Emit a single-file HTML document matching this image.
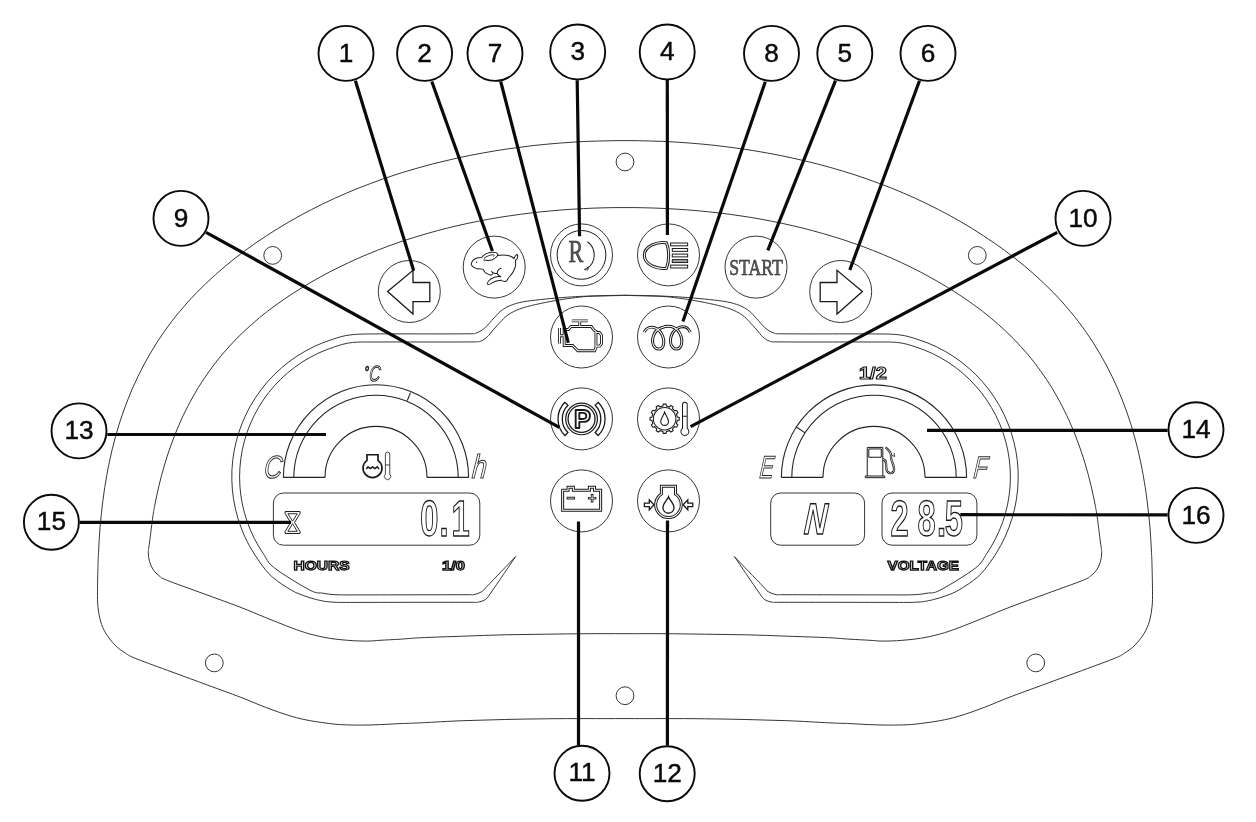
<!DOCTYPE html>
<html lang="en"><head><meta charset="utf-8"><title>Instrument cluster</title>
<style>
html,body{margin:0;padding:0;background:#fff;}
body{width:1256px;height:822px;overflow:hidden;font-family:"Liberation Sans",sans-serif;}
svg{display:block;will-change:transform;transform:translateZ(0);}
.num{font-family:"Liberation Sans",sans-serif;font-size:26.2px;text-anchor:middle;fill:#0a0a0a;stroke:#0a0a0a;stroke-width:.45px;}
.lbl{font-family:"Liberation Sans",sans-serif;font-weight:bold;font-size:13.6px;fill:#fff;stroke:#111;stroke-width:1.25px;}
.lcd{font-family:"Liberation Sans",sans-serif;font-weight:bold;fill:#fff;stroke:#1a1a1a;stroke-width:1.15px;vector-effect:non-scaling-stroke;}
.ital{font-family:"Liberation Sans",sans-serif;font-style:italic;fill:#fff;stroke:#2a2a2a;stroke-width:1px;}
.serif{font-family:"Liberation Serif",serif;fill:#5a5a5a;stroke:#222;stroke-width:.55px;}
</style></head>
<body>
<svg width="1256" height="822" viewBox="0 0 1256 822">
<rect width="1256" height="822" fill="#fff"/>
<path d="M625,140.6 C620.9,140.6 616.9,140.6 612.7,140.7 C608.4,140.7 604,140.8 599.7,141 C595.4,141.1 591.1,141.3 586.8,141.4 C582.4,141.6 578.1,141.9 573.8,142.1 C569.5,142.4 565.1,142.7 560.8,143 C556.5,143.4 552.2,143.7 547.9,144.1 C543.5,144.5 539.2,145 534.9,145.4 C530.6,145.9 526.3,146.4 522,147 C517.6,147.5 513.3,148.1 509,148.7 C504.7,149.3 500.4,150 496.1,150.7 C491.9,151.4 487.6,152.1 483.3,152.9 C479,153.6 474.8,154.5 470.5,155.3 C466.2,156.1 462,157 457.7,158 C453.5,158.9 449.3,159.9 445.1,160.9 C440.8,161.9 436.6,162.9 432.4,164 C428.2,165.1 424,166.2 419.9,167.4 C415.7,168.6 411.6,169.8 407.4,171 C403.3,172.3 399.1,173.6 395,174.9 C390.9,176.3 386.8,177.6 382.7,179.1 C378.7,180.5 374.6,182 370.6,183.5 C366.5,185 362.5,186.5 358.5,188.1 C354.5,189.7 350.5,191.4 346.5,193.1 C342.6,194.8 338.6,196.5 334.7,198.3 C330.8,200.1 326.9,201.9 323,203.8 C319.1,205.7 315.3,207.6 311.5,209.6 C307.6,211.5 303.8,213.6 300.1,215.6 C296.3,217.7 292.5,219.8 288.8,222 C285.1,224.1 281.4,226.4 277.7,228.6 C274,230.9 270.4,233.2 266.8,235.6 C263.2,237.9 259.6,240.3 256,242.8 C252.5,245.3 248.9,247.8 245.5,250.3 C242,252.9 238.5,255.5 235.1,258.2 C231.7,260.9 228.4,263.6 225.1,266.3 C221.8,269.1 218.5,271.9 215.3,274.8 C212.1,277.7 208.9,280.6 205.8,283.6 C202.7,286.5 199.6,289.6 196.6,292.6 C193.7,295.7 190.7,298.9 187.8,302 C185,305.2 182.2,308.5 179.4,311.8 C176.7,315 174,318.4 171.4,321.8 C168.8,325.2 166.3,328.6 163.9,332.1 C161.4,335.6 159,339.2 156.7,342.8 C154.4,346.4 152.2,350 150.1,353.7 C147.9,357.4 145.8,361.1 143.8,364.9 C141.8,368.7 139.9,372.5 138,376.4 C136.1,380.2 134.3,384.1 132.6,388.1 C130.9,392 129.3,396 127.7,400 C126.1,403.9 124.6,408 123.2,412 C121.8,416.1 120.4,420.2 119.1,424.3 C117.8,428.4 116.6,432.6 115.5,436.7 C114.3,440.9 113.2,445.1 112.2,449.3 C111.2,453.5 110.3,457.7 109.4,461.9 C108.5,466.2 107.6,470.5 106.9,474.7 C106.1,479 105.4,483.3 104.7,487.6 C104,491.9 103.4,496.2 102.9,500.5 C102.3,504.8 101.8,509.2 101.4,513.5 C100.9,517.8 100.5,522.2 100.1,526.5 C99.8,530.9 99.4,535.2 99.2,539.5 C98.9,543.9 98.7,548.2 98.5,552.6 C98.3,556.9 98.1,559.1 98,565.6 C97.8,572 97.5,584.3 97.5,591.1 C97.5,597.9 97.4,601.4 97.9,606.4 C98.4,611.4 99.2,616.5 100.5,621 C101.8,625.5 103.5,629.6 106,633.6 C108.5,637.6 112,642 115.2,645.3 C118.5,648.6 121.9,650.9 125.5,653.2 C129.1,655.5 129.2,655.9 137,659 C144.8,662.1 160.3,667.7 172,672 C183.7,676.3 196.1,680.8 207.4,685 C218.7,689.2 230.3,693.3 240,697 C249.7,700.7 257,704.1 265.5,707.3 C274,710.5 283.7,714 291.1,716.2 C298.6,718.4 303.8,719.5 310.2,720.7 C316.6,721.9 324.1,722.8 329.4,723.5 C334.7,724.2 336.9,724.4 342.2,724.7 C347.5,725 354.9,725.1 361.3,725.1 C367.7,725.1 374.1,724.9 380.5,724.6 C386.9,724.4 393.2,723.9 400,723.6 C406.8,723.3 410.9,723.3 421.4,722.8 C431.9,722.3 449,721.2 462.8,720.7 C476.6,720.2 490.4,719.8 504.2,719.5 C518,719.2 531.8,718.9 545.6,718.8 C559.4,718.6 573.8,718.6 587,718.6 C600.2,718.6 612.3,718.6 625,718.6 C637.7,718.6 649.8,718.6 663,718.6 C676.2,718.6 690.6,718.6 704.4,718.8 C718.2,718.9 732,719.2 745.8,719.5 C759.6,719.8 773.4,720.2 787.2,720.7 C801,721.2 818.1,722.3 828.6,722.8 C839.1,723.3 843.2,723.3 850,723.6 C856.8,723.9 863,724.4 869.5,724.6 C876,724.9 882.3,725.1 888.7,725.1 C895.1,725.1 902.5,725 907.8,724.7 C913.1,724.4 915.3,724.2 920.6,723.5 C925.9,722.8 933.4,721.9 939.8,720.7 C946.2,719.5 951.4,718.4 958.9,716.2 C966.4,714 976,710.5 984.5,707.3 C993,704.1 1000.3,700.7 1010,697 C1019.7,693.3 1031.3,689.2 1042.6,685 C1053.9,680.8 1066.3,676.3 1078,672 C1089.7,667.7 1105.2,662.1 1113,659 C1120.8,655.9 1120.9,655.5 1124.5,653.2 C1128.1,650.9 1131.5,648.6 1134.8,645.3 C1138,642 1141.5,637.6 1144,633.6 C1146.5,629.6 1148.2,625.5 1149.5,621 C1150.8,616.5 1151.6,611.4 1152.1,606.4 C1152.6,601.4 1152.5,597.9 1152.5,591.1 C1152.5,584.3 1152.2,572 1152,565.6 C1151.9,559.1 1151.7,556.9 1151.5,552.6 C1151.3,548.2 1151.1,543.9 1150.8,539.5 C1150.6,535.2 1150.2,530.9 1149.9,526.5 C1149.5,522.2 1149.1,517.8 1148.6,513.5 C1148.2,509.2 1147.7,504.8 1147.1,500.5 C1146.6,496.2 1146,491.9 1145.3,487.6 C1144.6,483.3 1143.9,479 1143.1,474.7 C1142.4,470.5 1141.5,466.2 1140.6,461.9 C1139.7,457.7 1138.8,453.5 1137.8,449.3 C1136.8,445.1 1135.7,440.9 1134.5,436.7 C1133.4,432.6 1132.2,428.4 1130.9,424.3 C1129.6,420.2 1128.2,416.1 1126.8,412 C1125.4,408 1123.9,403.9 1122.3,400 C1120.7,396 1119.1,392 1117.4,388.1 C1115.7,384.1 1113.9,380.2 1112,376.4 C1110.1,372.5 1108.2,368.7 1106.2,364.9 C1104.2,361.1 1102.1,357.4 1099.9,353.7 C1097.8,350 1095.6,346.4 1093.3,342.8 C1091,339.2 1088.6,335.6 1086.1,332.1 C1083.7,328.6 1081.2,325.2 1078.6,321.8 C1076,318.4 1073.3,315 1070.6,311.8 C1067.8,308.5 1065,305.2 1062.2,302 C1059.3,298.9 1056.3,295.7 1053.4,292.6 C1050.4,289.6 1047.3,286.5 1044.2,283.6 C1041.1,280.6 1037.9,277.7 1034.7,274.8 C1031.5,271.9 1028.2,269.1 1024.9,266.3 C1021.6,263.6 1018.3,260.9 1014.9,258.2 C1011.5,255.5 1008,252.9 1004.5,250.3 C1001.1,247.8 997.5,245.3 994,242.8 C990.4,240.3 986.8,237.9 983.2,235.6 C979.6,233.2 976,230.9 972.3,228.6 C968.6,226.4 964.9,224.1 961.2,222 C957.5,219.8 953.7,217.7 949.9,215.6 C946.2,213.6 942.4,211.5 938.5,209.6 C934.7,207.6 930.9,205.7 927,203.8 C923.1,201.9 919.2,200.1 915.3,198.3 C911.4,196.5 907.4,194.8 903.5,193.1 C899.5,191.4 895.5,189.7 891.5,188.1 C887.5,186.5 883.5,185 879.4,183.5 C875.4,182 871.3,180.5 867.3,179.1 C863.2,177.6 859.1,176.3 855,174.9 C850.9,173.6 846.7,172.3 842.6,171 C838.4,169.8 834.3,168.6 830.1,167.4 C826,166.2 821.8,165.1 817.6,164 C813.4,162.9 809.2,161.9 804.9,160.9 C800.7,159.9 796.5,158.9 792.3,158 C788,157 783.8,156.1 779.5,155.3 C775.2,154.5 771,153.6 766.7,152.9 C762.4,152.1 758.1,151.4 753.9,150.7 C749.6,150 745.3,149.3 741,148.7 C736.7,148.1 732.4,147.5 728,147 C723.7,146.4 719.4,145.9 715.1,145.4 C710.8,145 706.5,144.5 702.1,144.1 C697.8,143.7 693.5,143.4 689.2,143 C684.9,142.7 680.5,142.4 676.2,142.1 C671.9,141.9 667.6,141.6 663.2,141.4 C658.9,141.3 654.6,141.1 650.3,141 C646,140.8 641.6,140.7 637.3,140.7 C633.1,140.6 629.1,140.6 625,140.6Z" fill="none" stroke="#2b2b2b" stroke-width="0.95"/>
<path d="M625,207.6 C621.7,207.6 618.5,207.6 615.1,207.6 C611.7,207.7 608.1,207.7 604.5,207.8 C601,207.9 597.5,208 594,208.1 C590.5,208.3 587,208.4 583.5,208.6 C580,208.8 576.4,209 572.9,209.2 C569.4,209.4 565.9,209.7 562.4,209.9 C558.9,210.2 555.3,210.5 551.8,210.8 C548.3,211.1 544.8,211.5 541.3,211.8 C537.8,212.2 534.3,212.6 530.8,213 C527.3,213.4 523.8,213.9 520.3,214.3 C516.8,214.8 513.3,215.3 509.8,215.8 C506.3,216.3 502.8,216.9 499.3,217.4 C495.8,218 492.4,218.6 488.9,219.2 C485.4,219.8 482,220.5 478.5,221.2 C475,221.9 471.6,222.6 468.1,223.3 C464.7,224 461.3,224.8 457.8,225.6 C454.4,226.4 451,227.2 447.6,228 C444.2,228.9 440.7,229.8 437.4,230.7 C434,231.6 430.6,232.5 427.2,233.5 C423.8,234.4 420.5,235.4 417.1,236.5 C413.8,237.5 410.4,238.5 407.1,239.6 C403.7,240.7 400.4,241.8 397.1,243 C393.8,244.1 390.5,245.3 387.2,246.5 C384,247.8 380.7,249 377.4,250.3 C374.2,251.6 370.9,252.9 367.7,254.2 C364.5,255.6 361.3,256.9 358.1,258.3 C354.9,259.7 351.7,261.2 348.5,262.7 C345.4,264.1 342.2,265.7 339.1,267.2 C336,268.7 332.8,270.3 329.7,271.9 C326.6,273.5 323.6,275.2 320.5,276.9 C317.4,278.6 314.4,280.3 311.4,282 C308.3,283.8 305.3,285.6 302.4,287.4 C299.4,289.2 296.4,291.1 293.5,293 C290.5,294.9 287.6,296.8 284.7,298.8 C281.8,300.8 279,302.8 276.1,304.9 C273.3,306.9 270.5,309 267.7,311.1 C265,313.3 262.2,315.5 259.5,317.7 C256.9,319.9 254.2,322.2 251.6,324.5 C249,326.8 246.4,329.1 243.9,331.5 C241.3,333.9 238.9,336.3 236.4,338.8 C234,341.3 231.6,343.8 229.3,346.4 C226.9,349 224.6,351.6 222.4,354.2 C220.2,356.9 218,359.6 215.8,362.3 C213.7,365.1 211.6,367.8 209.6,370.7 C207.6,373.5 205.6,376.3 203.7,379.2 C201.7,382.1 199.9,385.1 198,388 C196.2,391 194.5,394 192.8,397 C191,400.1 189.4,403.2 187.8,406.3 C186.2,409.4 184.6,412.5 183.1,415.7 C181.7,418.8 180.2,422 178.8,425.3 C177.4,428.5 176.1,431.7 174.8,435 C173.5,438.3 172.3,441.6 171.1,444.9 C169.9,448.2 168.7,451.5 167.6,454.9 C166.5,458.2 165.5,461.6 164.5,465 C163.5,468.4 162.5,471.8 161.6,475.2 C160.7,478.6 159.9,482 159,485.5 C158.2,488.9 157.4,492.4 156.7,495.8 C156,499.3 155.3,502.7 154.6,506.2 C154,509.7 153.7,510.7 152.8,516.6 C152,522.6 150.4,536 149.6,542 C148.8,548 148.3,549.5 148.3,552.8 C148.3,556.1 148.8,558.8 149.6,561.7 C150.4,564.6 151.8,567.6 153.4,570 C155,572.4 157,574.1 159.2,575.8 C161.4,577.5 159.5,577.2 166.8,580.2 C174.1,583.2 190.8,589 203,593.5 C215.2,598 229.6,603.1 240,607.1 C250.4,611.1 257,614.1 265.5,617.5 C274,620.9 283.7,624.9 291.1,627.7 C298.6,630.5 303.8,632.3 310.2,634.1 C316.6,635.9 323,637.2 329.4,638.3 C335.8,639.3 342.2,639.9 348.6,640.4 C355,640.9 362.5,641.1 367.7,641.1 C372.9,641.1 374.6,640.6 380,640.3 C385.4,640 393.1,639.6 400,639.2 C406.9,638.8 410.9,638.2 421.4,637.7 C431.9,637.2 449,636.7 462.8,636.2 C476.6,635.7 490.4,635.1 504.2,634.8 C518,634.5 531.8,634.4 545.6,634.2 C559.4,634 573.8,633.8 587,633.7 C600.2,633.6 612.3,633.7 625,633.7 C637.7,633.7 649.8,633.6 663,633.7 C676.2,633.8 690.6,634 704.4,634.2 C718.2,634.4 732,634.5 745.8,634.8 C759.6,635.1 773.4,635.7 787.2,636.2 C801,636.7 818.1,637.2 828.6,637.7 C839.1,638.2 843.1,638.8 850,639.2 C856.9,639.6 864.6,640 870,640.3 C875.4,640.6 877.1,641.1 882.3,641.1 C887.5,641.1 895,640.9 901.4,640.4 C907.8,639.9 914.2,639.3 920.6,638.3 C927,637.2 933.4,635.9 939.8,634.1 C946.2,632.3 951.4,630.5 958.9,627.7 C966.4,624.9 976,620.9 984.5,617.5 C993,614.1 999.6,611.1 1010,607.1 C1020.4,603.1 1034.8,598 1047,593.5 C1059.2,589 1075.9,583.2 1083.2,580.2 C1090.5,577.2 1088.6,577.5 1090.8,575.8 C1093,574.1 1095,572.4 1096.6,570 C1098.2,567.6 1099.6,564.6 1100.4,561.7 C1101.2,558.8 1101.7,556.1 1101.7,552.8 C1101.7,549.5 1101.2,548 1100.4,542 C1099.6,536 1098,522.6 1097.2,516.6 C1096.3,510.7 1096,509.7 1095.4,506.2 C1094.7,502.7 1094,499.3 1093.3,495.8 C1092.6,492.4 1091.8,488.9 1091,485.5 C1090.1,482 1089.3,478.6 1088.4,475.2 C1087.5,471.8 1086.5,468.4 1085.5,465 C1084.5,461.6 1083.5,458.2 1082.4,454.9 C1081.3,451.5 1080.1,448.2 1078.9,444.9 C1077.7,441.6 1076.5,438.3 1075.2,435 C1073.9,431.7 1072.6,428.5 1071.2,425.3 C1069.8,422 1068.3,418.8 1066.9,415.7 C1065.4,412.5 1063.8,409.4 1062.2,406.3 C1060.6,403.2 1059,400.1 1057.2,397 C1055.5,394 1053.8,391 1052,388 C1050.1,385.1 1048.3,382.1 1046.3,379.2 C1044.4,376.3 1042.4,373.5 1040.4,370.7 C1038.4,367.8 1036.3,365.1 1034.2,362.3 C1032,359.6 1029.8,356.9 1027.6,354.2 C1025.4,351.6 1023.1,349 1020.7,346.4 C1018.4,343.8 1016,341.3 1013.6,338.8 C1011.1,336.3 1008.7,333.9 1006.1,331.5 C1003.6,329.1 1001,326.8 998.4,324.5 C995.8,322.2 993.1,319.9 990.5,317.7 C987.8,315.5 985,313.3 982.3,311.1 C979.5,309 976.7,306.9 973.9,304.9 C971,302.8 968.2,300.8 965.3,298.8 C962.4,296.8 959.5,294.9 956.5,293 C953.6,291.1 950.6,289.2 947.6,287.4 C944.7,285.6 941.7,283.8 938.6,282 C935.6,280.3 932.6,278.6 929.5,276.9 C926.4,275.2 923.4,273.5 920.3,271.9 C917.2,270.3 914,268.7 910.9,267.2 C907.8,265.7 904.6,264.1 901.5,262.7 C898.3,261.2 895.1,259.7 891.9,258.3 C888.7,256.9 885.5,255.6 882.3,254.2 C879.1,252.9 875.8,251.6 872.6,250.3 C869.3,249 866,247.8 862.8,246.5 C859.5,245.3 856.2,244.1 852.9,243 C849.6,241.8 846.3,240.7 842.9,239.6 C839.6,238.5 836.2,237.5 832.9,236.5 C829.5,235.4 826.2,234.4 822.8,233.5 C819.4,232.5 816,231.6 812.6,230.7 C809.3,229.8 805.8,228.9 802.4,228 C799,227.2 795.6,226.4 792.2,225.6 C788.7,224.8 785.3,224 781.9,223.3 C778.4,222.6 775,221.9 771.5,221.2 C768,220.5 764.6,219.8 761.1,219.2 C757.6,218.6 754.2,218 750.7,217.4 C747.2,216.9 743.7,216.3 740.2,215.8 C736.7,215.3 733.2,214.8 729.7,214.3 C726.2,213.9 722.7,213.4 719.2,213 C715.7,212.6 712.2,212.2 708.7,211.8 C705.2,211.5 701.7,211.1 698.2,210.8 C694.7,210.5 691.1,210.2 687.6,209.9 C684.1,209.7 680.6,209.4 677.1,209.2 C673.6,209 670,208.8 666.5,208.6 C663,208.4 659.5,208.3 656,208.1 C652.5,208 649,207.9 645.5,207.8 C641.9,207.7 638.3,207.7 634.9,207.6 C631.5,207.6 628.3,207.6 625,207.6Z" fill="none" stroke="#2b2b2b" stroke-width="0.95"/>
<circle cx="625" cy="162" r="8.9" fill="none" stroke="#2b2b2b" stroke-width="0.95"/>
<circle cx="272.7" cy="255.4" r="8.9" fill="none" stroke="#2b2b2b" stroke-width="0.95"/>
<circle cx="977.3" cy="255.4" r="8.9" fill="none" stroke="#2b2b2b" stroke-width="0.95"/>
<circle cx="214.3" cy="662.9" r="8.9" fill="none" stroke="#2b2b2b" stroke-width="0.95"/>
<circle cx="1035.7" cy="662.9" r="8.9" fill="none" stroke="#2b2b2b" stroke-width="0.95"/>
<circle cx="625" cy="695.7" r="8.9" fill="none" stroke="#2b2b2b" stroke-width="0.95"/>
<path d="M625,295.2 C622.3,295.2 615.1,295.4 608.9,295.5 C602.7,295.6 593.8,295.9 587.6,296.1 C581.4,296.3 577,296.6 571.7,296.9 C566.4,297.2 561.7,297.6 555.7,298.1 C549.7,298.6 541.8,299.4 535.8,300.1 C529.8,300.8 524.5,301.4 519.9,302.5 C515.3,303.6 511.3,305 508,306.5 C504.7,308 502.4,309.8 500,311.7 C497.6,313.6 496.4,315.4 493.8,318.2 C491.2,321 487.3,325.8 484.4,328.3 C481.5,330.8 478.9,332.1 476.2,333 C473.5,333.9 475.7,333.7 468,333.8 C460.3,333.9 444.9,333.9 430,333.9 C415.1,333.9 392,333.8 378.8,333.9 C365.6,334 358.8,333.9 351,334.8 C343.2,335.7 338.2,337.5 332,339.5 C325.9,341.4 319.8,343.9 313.9,346.6 C308.1,349.4 302.4,352.7 296.9,356.2 C291.5,359.8 286.3,363.7 281.4,368 C276.5,372.2 271.9,376.8 267.6,381.7 C263.3,386.6 259.3,391.8 255.8,397.2 C252.2,402.6 248.9,408.3 246.1,414.2 C243.3,420 240.9,426.1 238.9,432.2 C236.9,438.4 235.3,444.8 234.1,451.1 C232.9,457.5 232.2,464 231.9,470.5 C231.7,477 231.8,483.5 232.4,490 C233,496.4 234,502.9 235.5,509.2 C237,515.6 238.9,521.8 241.2,527.9 C243.4,534 246.2,539.9 249.3,545.6 C252.4,551.3 255.9,556.8 259.7,562.1 C263.5,567.3 267,572.3 272.3,577 C277.5,581.6 285.8,586.9 291.1,590 C296.4,593.1 299.6,594.1 303.9,595.7 C308.1,597.3 311.9,598.5 316.6,599.6 C321.3,600.7 324.8,601.6 332,602.1 C339.2,602.6 345.3,602.4 360,602.4 C374.7,602.4 401.7,602.3 420,602.3 C438.3,602.3 460.4,602.3 470,602.3 C479.6,602.3 475.3,602.7 477.9,602.2 C480.5,601.7 483.5,600.9 485.6,599.4 C487.7,597.9 487.8,597.1 490.7,593 C493.6,588.9 499,580.9 503.2,574.8 C507.4,568.7 513.5,559.6 515.6,556.6" fill="none" stroke="#2b2b2b" stroke-width="0.95"/>
<path d="M625,295.2 C627.7,295.2 634.9,295.4 641.1,295.5 C647.3,295.6 656.2,295.9 662.4,296.1 C668.6,296.3 673,296.6 678.3,296.9 C683.6,297.2 688.3,297.6 694.3,298.1 C700.3,298.6 708.2,299.4 714.2,300.1 C720.2,300.8 725.5,301.4 730.1,302.5 C734.7,303.6 738.7,305 742,306.5 C745.3,308 747.6,309.8 750,311.7 C752.4,313.6 753.6,315.4 756.2,318.2 C758.8,321 762.7,325.8 765.6,328.3 C768.5,330.8 771.1,332.1 773.8,333 C776.5,333.9 774.3,333.7 782,333.8 C789.7,333.9 805.1,333.9 820,333.9 C834.9,333.9 858,333.8 871.2,333.9 C884.4,334 891.2,333.9 899,334.8 C906.8,335.7 911.8,337.5 918,339.5 C924.1,341.4 930.2,343.9 936.1,346.6 C941.9,349.4 947.6,352.7 953.1,356.2 C958.5,359.8 963.7,363.7 968.6,368 C973.5,372.2 978.1,376.8 982.4,381.7 C986.7,386.6 990.7,391.8 994.2,397.2 C997.8,402.6 1001.1,408.3 1003.9,414.2 C1006.7,420 1009.1,426.1 1011.1,432.2 C1013.1,438.4 1014.7,444.8 1015.9,451.1 C1017.1,457.5 1017.8,464 1018.1,470.5 C1018.3,477 1018.2,483.5 1017.6,490 C1017,496.4 1016,502.9 1014.5,509.2 C1013,515.6 1011.1,521.8 1008.8,527.9 C1006.6,534 1003.8,539.9 1000.7,545.6 C997.6,551.3 994.1,556.8 990.3,562.1 C986.5,567.3 983,572.3 977.7,577 C972.5,581.6 964.2,586.9 958.9,590 C953.6,593.1 950.4,594.1 946.1,595.7 C941.9,597.3 938.1,598.5 933.4,599.6 C928.7,600.7 925.2,601.6 918,602.1 C910.8,602.6 904.7,602.4 890,602.4 C875.3,602.4 848.3,602.3 830,602.3 C811.7,602.3 789.6,602.3 780,602.3 C770.4,602.3 774.7,602.7 772.1,602.2 C769.5,601.7 766.5,600.9 764.4,599.4 C762.3,597.9 762.2,597.1 759.3,593 C756.4,588.9 750.9,580.9 746.8,574.8 C742.6,568.7 736.5,559.6 734.4,556.6" fill="none" stroke="#2b2b2b" stroke-width="0.95"/>
<path d="M625,295.4 C622.3,295.5 615.1,295.6 608.9,295.8 C602.7,296 593.8,296 587.6,296.4 C581.4,296.8 577,297.4 571.7,298.1 C566.4,298.8 561.7,299.4 555.7,300.5 C549.7,301.6 541.8,303.1 535.8,304.5 C529.8,305.9 524.5,307.2 519.9,308.9 C515.3,310.6 511.3,312.6 508,314.9 C504.7,317.1 502.3,320 500,322.4 C497.7,324.8 496.2,326.6 494,329 C491.8,331.4 489.3,335.1 487,337.1 C484.7,339.1 482.8,340.4 480.3,341.2 C477.8,342 480.4,341.8 472,341.9 C463.6,342 445.5,342 430,342 C414.5,342 391.7,341.9 378.8,342 C365.9,342.1 359.7,341.7 352.3,342.5 C345,343.3 340.4,345 334.7,346.8 C329,348.6 323.3,350.9 317.8,353.4 C312.4,356 307,359 302,362.2 C296.9,365.5 292,369.2 287.4,373.1 C282.8,377 278.5,381.3 274.4,385.8 C270.4,390.2 266.6,395 263.3,400 C259.9,405 256.8,410.3 254.1,415.7 C251.4,421.1 249,426.7 247,432.4 C245.1,438.1 243.5,444 242.3,449.9 C241.1,455.8 240.3,461.9 239.9,467.9 C239.5,473.9 239.5,480 239.9,486 C240.3,492 241.1,498.1 242.3,504 C243.5,509.9 245.2,515.8 247.1,521.5 C249.1,527.2 251.5,532.8 254.2,538.2 C256.9,543.6 260,548.8 263.4,553.8 C266.8,558.8 266.9,562 274.6,568.1 C282.3,574.1 301.5,585.8 309.6,590 C317.7,594.2 318.6,592.4 323,593.2 C327.4,594 329.6,594.4 335.8,594.7 C342,595 346,594.9 360,594.9 C374,594.9 402.3,594.8 420,594.8 C437.7,594.8 457,594.7 466,594.7 C475,594.7 471.4,595.1 474,594.6 C476.6,594.1 479.6,593 481.7,591.7 C483.8,590.4 483.6,590 486.8,586.6 C490.1,583.2 496.4,576.6 501.2,571.6 C506,566.6 513.2,559.1 515.6,556.6" fill="none" stroke="#2b2b2b" stroke-width="0.95"/>
<path d="M625,295.4 C627.7,295.5 634.9,295.6 641.1,295.8 C647.3,296 656.2,296 662.4,296.4 C668.6,296.8 673,297.4 678.3,298.1 C683.6,298.8 688.3,299.4 694.3,300.5 C700.3,301.6 708.2,303.1 714.2,304.5 C720.2,305.9 725.5,307.2 730.1,308.9 C734.7,310.6 738.7,312.6 742,314.9 C745.3,317.1 747.7,320 750,322.4 C752.3,324.8 753.8,326.6 756,329 C758.2,331.4 760.7,335.1 763,337.1 C765.3,339.1 767.2,340.4 769.7,341.2 C772.2,342 769.6,341.8 778,341.9 C786.4,342 804.5,342 820,342 C835.5,342 858.3,341.9 871.2,342 C884.1,342.1 890.3,341.7 897.7,342.5 C905,343.3 909.6,345 915.3,346.8 C921,348.6 926.7,350.9 932.2,353.4 C937.6,356 943,359 948,362.2 C953.1,365.5 958,369.2 962.6,373.1 C967.2,377 971.5,381.3 975.6,385.8 C979.6,390.2 983.4,395 986.7,400 C990.1,405 993.2,410.3 995.9,415.7 C998.6,421.1 1001,426.7 1003,432.4 C1004.9,438.1 1006.5,444 1007.7,449.9 C1008.9,455.8 1009.7,461.9 1010.1,467.9 C1010.5,473.9 1010.5,480 1010.1,486 C1009.7,492 1008.9,498.1 1007.7,504 C1006.5,509.9 1004.8,515.8 1002.9,521.5 C1000.9,527.2 998.5,532.8 995.8,538.2 C993.1,543.6 990,548.8 986.6,553.8 C983.2,558.8 983.1,562 975.4,568.1 C967.7,574.1 948.5,585.8 940.4,590 C932.3,594.2 931.4,592.4 927,593.2 C922.6,594 920.4,594.4 914.2,594.7 C908,595 904,594.9 890,594.9 C876,594.9 847.7,594.8 830,594.8 C812.3,594.8 793,594.7 784,594.7 C775,594.7 778.6,595.1 776,594.6 C773.4,594.1 770.4,593 768.3,591.7 C766.2,590.4 766.5,590 763.2,586.6 C760,583.2 753.6,576.6 748.8,571.6 C744,566.6 736.8,559.1 734.4,556.6" fill="none" stroke="#2b2b2b" stroke-width="0.95"/>
<path d="M283.4,477.4 A92.6,92.6 0 0 1 468.6,477.4 M293.8,477.4 A82.2,82.2 0 0 1 458.2,477.4 M325,477.4 A51,51 0 0 1 427,477.4 M283.4,477.4 H325 M427,477.4 H468.6 M407.3,400.5 L410.5,392.6" fill="none" stroke="#222" stroke-width="1.1"/>
<path d="M781.4,477.4 A92.6,92.6 0 0 1 966.6,477.4 M791.8,477.4 A82.2,82.2 0 0 1 956.2,477.4 M823,477.4 A51,51 0 0 1 925,477.4 M781.4,477.4 H823 M925,477.4 H966.6 M796.4,427 L804.7,432.6" fill="none" stroke="#222" stroke-width="1.1"/>
<rect x="273.4" y="493" width="206.4" height="52.2" rx="10" fill="none" stroke="#2b2b2b" stroke-width="0.95"/>
<rect x="770.7" y="493" width="93.9" height="52.2" rx="10" fill="none" stroke="#2b2b2b" stroke-width="0.95"/>
<rect x="882" y="493" width="94.9" height="52.2" rx="10" fill="none" stroke="#2b2b2b" stroke-width="0.95"/>
<circle cx="409.3" cy="291.5" r="31" fill="none" stroke="#2b2b2b" stroke-width="0.95"/>
<circle cx="494.2" cy="267.1" r="31" fill="none" stroke="#2b2b2b" stroke-width="0.95"/>
<circle cx="581.5" cy="254.9" r="31" fill="none" stroke="#2b2b2b" stroke-width="0.95"/>
<circle cx="668.5" cy="254.9" r="31" fill="none" stroke="#2b2b2b" stroke-width="0.95"/>
<circle cx="756" cy="267.1" r="31" fill="none" stroke="#2b2b2b" stroke-width="0.95"/>
<circle cx="840.7" cy="291.5" r="31" fill="none" stroke="#2b2b2b" stroke-width="0.95"/>
<circle cx="581.5" cy="337" r="31" fill="none" stroke="#2b2b2b" stroke-width="0.95"/>
<circle cx="668.5" cy="337" r="31" fill="none" stroke="#2b2b2b" stroke-width="0.95"/>
<circle cx="581.5" cy="418.9" r="31" fill="none" stroke="#2b2b2b" stroke-width="0.95"/>
<circle cx="668.5" cy="418.9" r="31" fill="none" stroke="#2b2b2b" stroke-width="0.95"/>
<circle cx="581.5" cy="500.9" r="31" fill="none" stroke="#2b2b2b" stroke-width="0.95"/>
<circle cx="668.5" cy="500.9" r="31" fill="none" stroke="#2b2b2b" stroke-width="0.95"/>
<polygon points="387.6,291.4 413,270.3 413,282.5 429.8,282.5 429.8,301.6 413,301.6 413,314" fill="none" stroke="#1a1a1a" stroke-width="1.3" stroke-linejoin="miter"/>
<polygon points="862.4,291.4 837,270.3 837,282.5 820.2,282.5 820.2,301.6 837,301.6 837,314" fill="none" stroke="#1a1a1a" stroke-width="1.3" stroke-linejoin="miter"/>
<g transform="translate(455,232) scale(0.08518)"><path d="M190,380 C195,350 215,320 250,308 C275,300 295,300 312,300 C330,275 370,250 410,242 C450,235 490,240 502,258 C505,280 470,310 440,325 C410,335 370,335 335,328" fill="none" stroke="#1a1a1a" stroke-width="11.74" /><path d="M338,312 C370,285 410,268 450,266 C462,268 462,278 452,288" fill="none" stroke="#1a1a1a" stroke-width="10.57" /><path d="M497,275 C540,268 600,268 645,282 C670,292 685,303 692,312 C700,290 715,270 728,262 C742,285 735,315 708,335 C720,380 705,440 665,495 C640,525 615,545 607,575 C590,582 560,578 540,565 C500,566 465,578 430,600 C410,614 390,622 380,610 C375,595 390,575 415,555 C450,530 500,515 540,525" fill="none" stroke="#1a1a1a" stroke-width="11.74" /><path d="M192,388 C200,405 215,415 250,430 C290,432 325,428 335,445 C345,470 370,495 415,505 C432,506 442,496 440,485" fill="none" stroke="#1a1a1a" stroke-width="11.74" /><path d="M425,462 C440,480 465,492 495,487 C495,460 510,435 545,422 M495,487 C505,505 520,518 540,525" fill="none" stroke="#1a1a1a" stroke-width="11.74" /><circle cx="253" cy="355" r="8" fill="#1a1a1a"/><circle cx="192" cy="382" r="6" fill="#1a1a1a"/></g>
<text x="568.4" y="261.7" class="serif" font-size="30.8" textLength="14.8" lengthAdjust="spacingAndGlyphs">R</text>
<g transform="translate(541,220) scale(0.08518)"><path d="M545,255 A192,192 0 0 1 540,570" fill="none" stroke="#1a1a1a" stroke-width="11.74" /><path d="M508,582 L560,552 L548,588 Z" fill="none" stroke="#1a1a1a" stroke-width="9.39" /></g>
<circle cx="581.5" cy="254.9" r="24.4" fill="none" stroke="#1a1a1a" stroke-width="1"/>
<g transform="translate(628,220) scale(0.08518)"><path d="M452,268 C350,250 192,300 192,415 C192,530 350,582 452,566 C486,480 486,350 452,268 Z" fill="none" stroke="#1a1a1a" stroke-width="35.22" stroke-linejoin="round" /><path d="M452,268 C350,250 192,300 192,415 C192,530 350,582 452,566 C486,480 486,350 452,268 Z" fill="none" stroke="#fff" stroke-width="11.74" stroke-linejoin="round" /><rect x="500" y="270" width="200" height="33" fill="#fff" stroke="#1a1a1a" stroke-width="11.74"/><rect x="520" y="335" width="180" height="33" fill="#fff" stroke="#1a1a1a" stroke-width="11.74"/><rect x="520" y="400" width="180" height="33" fill="#fff" stroke="#1a1a1a" stroke-width="11.74"/><rect x="520" y="465" width="180" height="33" fill="#aaa" stroke="#1a1a1a" stroke-width="11.74"/><rect x="500" y="530" width="200" height="33" fill="#fff" stroke="#1a1a1a" stroke-width="11.74"/></g>
<text x="729.2" y="275.4" class="serif" font-size="23.7" textLength="53.7" lengthAdjust="spacingAndGlyphs">START</text>
<g transform="translate(541,302) scale(0.08518)"><path d="M272,322 H322 L352,288 H590 L622,330 L645,345 V535 L630,572 H432 L372,510 H272 Z M362,222 H550 M455,222 V288 M218,305 V487 M218,396 H272 M645,358 H686 L710,390 V490 L688,518 H645" fill="none" stroke="#1a1a1a" stroke-width="34.05" stroke-linejoin="miter" /><path d="M272,322 H322 L352,288 H590 L622,330 L645,345 V535 L630,572 H432 L372,510 H272 Z M362,222 H550 M455,222 V288 M218,305 V487 M218,396 H272 M645,358 H686 L710,390 V490 L688,518 H645" fill="none" stroke="#fff" stroke-width="12.91" stroke-linejoin="miter" /></g>
<g transform="translate(628,302) scale(0.08518)"><path d="M190,355 C215,300 270,285 320,305 C400,340 440,450 410,520 C390,565 330,565 300,510 C270,440 300,330 400,300 C450,280 500,280 540,300 C620,340 650,450 620,520 C595,565 540,565 510,510 C480,440 510,330 610,295 C660,280 710,300 730,355" fill="none" stroke="#1a1a1a" stroke-width="35.22" stroke-linejoin="miter" stroke-linecap="butt"/><path d="M190,355 C215,300 270,285 320,305 C400,340 440,450 410,520 C390,565 330,565 300,510 C270,440 300,330 400,300 C450,280 500,280 540,300 C620,340 650,450 620,520 C595,565 540,565 510,510 C480,440 510,330 610,295 C660,280 710,300 730,355" fill="none" stroke="#fff" stroke-width="11.74" stroke-linejoin="miter" stroke-linecap="butt"/></g>
<g transform="translate(541,384) scale(0.08518)"><circle cx="476" cy="410" r="186" fill="none" stroke="#1a1a1a" stroke-width="14.09"/><circle cx="476" cy="410" r="158" fill="none" stroke="#1a1a1a" stroke-width="15.26"/><path d="M280.84,214.84 A276,276 0 0 0 280.84,605.16 L316.19,569.81 A226,226 0 0 1 316.19,250.19 Z" fill="none" stroke="#1a1a1a" stroke-width="15.26" /><path d="M671.16,605.16 A276,276 0 0 0 671.16,214.84 L635.81,250.19 A226,226 0 0 1 635.81,569.81 Z" fill="none" stroke="#1a1a1a" stroke-width="15.26" /></g>
<text x="582.4" y="428" font-family="Liberation Sans, sans-serif" font-weight="bold" font-size="25.2" text-anchor="middle" fill="#fff" stroke="#1a1a1a" stroke-width="1.9" stroke-linejoin="round">P</text>
<g transform="translate(628,384) scale(0.08518)"><circle cx="430" cy="408" r="132" fill="none" stroke="#1a1a1a" stroke-width="11.74"/><path d="M451.14,259.5 L445.29,236.68 L414.71,236.68 L408.86,259.5 L374.05,268.82 L357.58,251.99 L331.1,267.28 L337.44,289.96 L311.96,315.44 L289.28,309.1 L273.99,335.58 L290.82,352.05 L281.5,386.86 L258.68,392.71 L258.68,423.29 L281.5,429.14 L290.82,463.95 L273.99,480.42 L289.28,506.9 L311.96,500.56 L337.44,526.04 L331.1,548.72 L357.58,564.01 L374.05,547.18 L408.86,556.5 L414.71,579.32 L445.29,579.32 L451.14,556.5 L485.95,547.18 L502.42,564.01 L528.9,548.72 L522.56,526.04 L548.04,500.56 L570.72,506.9 L586.01,480.42 L569.18,463.95 L578.5,429.14 L601.32,423.29 L601.32,392.71 L578.5,386.86 L569.18,352.05 L586.01,335.58 L570.72,309.1 L548.04,315.44 L522.56,289.96 L528.9,267.28 L502.42,251.99 L485.95,268.82 Z" fill="none" stroke="#1a1a1a" stroke-width="12.91" /><path d="M430,332 C443,370 476,402 476,440 A46,46 0 0 1 384,440 C384,402 417,370 430,332 Z" fill="none" stroke="#1a1a1a" stroke-width="12.91" /><path d="M640,520 V242 A27,27 0 0 1 695,242 V520 A47,47 0 1 1 640,520 Z M640,380 H695" fill="none" stroke="#1a1a1a" stroke-width="11.74" /></g>
<g transform="translate(541,466) scale(0.08518)"><path d="M254,285 H318 V250 H380 V285 H568 V250 H628 V285 H700 V520 H254 Z" fill="none" stroke="#1a1a1a" stroke-width="35.22" stroke-linejoin="miter" /><path d="M254,285 H318 V250 H380 V285 H568 V250 H628 V285 H700 V520 H254 Z" fill="none" stroke="#fff" stroke-width="11.74" stroke-linejoin="miter" /></g>
<text x="571" y="503.3" text-anchor="middle" font-family="Liberation Sans, sans-serif" font-weight="bold" font-size="15" fill="#fff" stroke="#1a1a1a" stroke-width="0.9">−</text>
<text x="592.1" y="503.3" text-anchor="middle" font-family="Liberation Sans, sans-serif" font-weight="bold" font-size="15" fill="#fff" stroke="#1a1a1a" stroke-width="0.9">+</text>
<g transform="translate(628,466) scale(0.08518)"><path d="M392,330 V238 H558 V330 A150,150 0 1 1 392,330 Z" fill="none" stroke="#1a1a1a" stroke-width="35.22" stroke-linejoin="miter" /><path d="M392,330 V238 H558 V330 A150,150 0 1 1 392,330 Z" fill="none" stroke="#fff" stroke-width="11.74" stroke-linejoin="miter" /><path d="M475,360 C492,405 540,440 540,490 A65,65 0 0 1 410,490 C410,440 458,405 475,360 Z" fill="none" stroke="#1a1a1a" stroke-width="15.26" /><path d="M192,435 H250 V398 L305,455 L250,515 V478 H192 Z" fill="none" stroke="#1a1a1a" stroke-width="15.26" /><path d="M760,435 H702 V398 L647,455 L702,515 V478 H760 Z" fill="none" stroke="#1a1a1a" stroke-width="15.26" /></g>
<g transform="translate(355,445) scale(0.04864)"><path d="M247,200 H473 V316 A195,195 0 1 1 247,316 Z" fill="none" stroke="#1a1a1a" stroke-width="34.95" stroke-linejoin="miter"/><path d="M232,492 L268,448 L315,485 L362,448 L408,485 L455,448 L495,492" fill="none" stroke="#1a1a1a" stroke-width="30.84" stroke-linejoin="round"/><path d="M625,600 V190 A45,45 0 0 1 715,190 V600 A65,65 0 1 1 625,600 Z M625,410 H715" fill="none" stroke="#1a1a1a" stroke-width="16.45" /></g>
<g transform="translate(256,440) scale(0.12771)"><path d="M228,560 H345 V575 L302,646 L345,717 V732 H228 V717 L271,646 L228,575 Z" fill="none" stroke="#1a1a1a" stroke-width="7.83" /><path d="M250,577 H323 L286.5,636 Z M250,715 H323 L286.5,656 Z" fill="none" stroke="#1a1a1a" stroke-width="7.05" /></g>
<g transform="translate(750,440) scale(0.12771)"><path d="M918,282 V58 H1040 V282 M903,282 H1055 V295 H903 Z" fill="none" stroke="#1a1a1a" stroke-width="7.83" /><path d="M930,70 H1028 V135 H930 Z" fill="none" stroke="#1a1a1a" stroke-width="7.83" /><path d="M1040,152 C1070,152 1066,190 1068,225 C1070,262 1118,275 1128,235 C1136,200 1095,160 1105,120 C1100,95 1080,72 1062,58" fill="none" stroke="#1a1a1a" stroke-width="17.23" stroke-linejoin="miter" /><path d="M1040,152 C1070,152 1066,190 1068,225 C1070,262 1118,275 1128,235 C1136,200 1095,160 1105,120 C1100,95 1080,72 1062,58" fill="none" stroke="#fff" stroke-width="5.48" stroke-linejoin="miter" /><path d="M1128,100 L1133,130 L1112,120" fill="none" stroke="#1a1a1a" stroke-width="6.26" /></g>
<text transform="translate(0,536.4) scale(0.66,1)" x="636.67 666.06 684.09" y="0" class="lcd" font-size="49.5">0.1</text>
<text transform="translate(0,536.4) scale(0.66,1)" x="1349.09 1390.15 1419.55 1431.36" y="0" class="lcd" font-size="49.5">28.5</text>
<text transform="translate(803.5,533.8) skewX(-4) scale(0.72,1)" class="lcd" font-style="italic" font-size="44">N</text>
<text x="293.4" y="570.1" class="lbl" textLength="56.3" lengthAdjust="spacingAndGlyphs">HOURS</text>
<text x="442" y="570.1" class="lbl" textLength="23" lengthAdjust="spacingAndGlyphs">1/0</text>
<text x="887.6" y="570.1" class="lbl" textLength="71.4" lengthAdjust="spacingAndGlyphs">VOLTAGE</text>
<text x="859" y="379.2" class="lbl" style="font-size:16px;stroke-width:1.05px" textLength="27.8" lengthAdjust="spacingAndGlyphs">1/2</text>
<text transform="translate(263.5,477.6) skewX(-5) scale(0.78,1)" class="ital" font-size="32">C</text>
<text transform="translate(471.5,477.6) skewX(-5) scale(0.8,1)" class="ital" font-size="33">h</text>
<text transform="translate(759,478.2) skewX(-5) scale(0.68,1)" class="ital" font-size="31.5">E</text>
<text transform="translate(973,477.6) skewX(-5) scale(0.74,1)" class="ital" font-size="31">F</text>
<text transform="translate(363.2,381) skewX(-5) scale(0.7,1)" class="ital"><tspan font-size="17" dy="-2.8">°</tspan><tspan font-size="22" dy="2.8" dx="1.2">C</tspan></text>
<line x1="355.4" y1="80.7" x2="413.7" y2="270.7" stroke="#0a0a0a" stroke-width="3.2" stroke-linecap="butt" fill="none"/>
<line x1="431.8" y1="81.5" x2="492.4" y2="251" stroke="#0a0a0a" stroke-width="3.2" stroke-linecap="butt" fill="none"/>
<line x1="500.7" y1="81.5" x2="568.3" y2="342.9" stroke="#0a0a0a" stroke-width="3.2" stroke-linecap="butt" fill="none"/>
<line x1="577.2" y1="80.2" x2="579.6" y2="236.2" stroke="#0a0a0a" stroke-width="3.2" stroke-linecap="butt" fill="none"/>
<line x1="667.3" y1="80" x2="667.4" y2="234.9" stroke="#0a0a0a" stroke-width="3.2" stroke-linecap="butt" fill="none"/>
<line x1="765.3" y1="81.7" x2="682.9" y2="321.6" stroke="#0a0a0a" stroke-width="3.2" stroke-linecap="butt" fill="none"/>
<line x1="835.5" y1="80.7" x2="767.8" y2="250.4" stroke="#0a0a0a" stroke-width="3.2" stroke-linecap="butt" fill="none"/>
<line x1="919.5" y1="80.7" x2="849.8" y2="270" stroke="#0a0a0a" stroke-width="3.2" stroke-linecap="butt" fill="none"/>
<line x1="206" y1="232.3" x2="559.3" y2="427.4" stroke="#0a0a0a" stroke-width="3.2" stroke-linecap="butt" fill="none"/>
<line x1="1057.3" y1="232.3" x2="690.6" y2="426.6" stroke="#0a0a0a" stroke-width="3.2" stroke-linecap="butt" fill="none"/>
<line x1="107.3" y1="434.5" x2="326" y2="434.5" stroke="#0a0a0a" stroke-width="3.2" stroke-linecap="butt" fill="none"/>
<line x1="1167.6" y1="430.4" x2="927" y2="430.4" stroke="#0a0a0a" stroke-width="3.2" stroke-linecap="butt" fill="none"/>
<line x1="79.7" y1="522.3" x2="291.1" y2="522.4" stroke="#0a0a0a" stroke-width="3.2" stroke-linecap="butt" fill="none"/>
<line x1="1167.6" y1="514.8" x2="960.3" y2="514.7" stroke="#0a0a0a" stroke-width="3.2" stroke-linecap="butt" fill="none"/>
<line x1="578.5" y1="745" x2="578.5" y2="521.4" stroke="#0a0a0a" stroke-width="3.2" stroke-linecap="butt" fill="none"/>
<line x1="667.4" y1="745.5" x2="667.5" y2="520.5" stroke="#0a0a0a" stroke-width="3.2" stroke-linecap="butt" fill="none"/>
<circle cx="346" cy="53.4" r="27.5" fill="#fff" stroke="#0a0a0a" stroke-width="1.9"/>
<text x="346" y="61.5" class="num">1</text>
<circle cx="424.6" cy="53.4" r="27.5" fill="#fff" stroke="#0a0a0a" stroke-width="1.9"/>
<text x="424.6" y="61.5" class="num">2</text>
<circle cx="495" cy="53.4" r="27.5" fill="#fff" stroke="#0a0a0a" stroke-width="1.9"/>
<text x="495" y="61.5" class="num">7</text>
<circle cx="577.7" cy="52" r="27.5" fill="#fff" stroke="#0a0a0a" stroke-width="1.9"/>
<text x="577.7" y="60.1" class="num">3</text>
<circle cx="667.2" cy="52" r="27.5" fill="#fff" stroke="#0a0a0a" stroke-width="1.9"/>
<text x="667.2" y="60.1" class="num">4</text>
<circle cx="771.5" cy="53.4" r="27.5" fill="#fff" stroke="#0a0a0a" stroke-width="1.9"/>
<text x="771.5" y="61.5" class="num">8</text>
<circle cx="844.8" cy="53.4" r="27.5" fill="#fff" stroke="#0a0a0a" stroke-width="1.9"/>
<text x="844.8" y="61.5" class="num">5</text>
<circle cx="928" cy="53.4" r="27.5" fill="#fff" stroke="#0a0a0a" stroke-width="1.9"/>
<text x="928" y="61.5" class="num">6</text>
<circle cx="181" cy="218.4" r="27.5" fill="#fff" stroke="#0a0a0a" stroke-width="1.9"/>
<text x="181" y="226.5" class="num">9</text>
<circle cx="1083" cy="218.4" r="27.5" fill="#fff" stroke="#0a0a0a" stroke-width="1.9"/>
<text x="1083" y="226.5" class="num">10</text>
<circle cx="79" cy="430.9" r="27.5" fill="#fff" stroke="#0a0a0a" stroke-width="1.9"/>
<text x="79" y="439" class="num">13</text>
<circle cx="1196" cy="429.7" r="27.5" fill="#fff" stroke="#0a0a0a" stroke-width="1.9"/>
<text x="1196" y="437.8" class="num">14</text>
<circle cx="51.4" cy="522.3" r="27.5" fill="#fff" stroke="#0a0a0a" stroke-width="1.9"/>
<text x="51.4" y="530.4" class="num">15</text>
<circle cx="1196" cy="515.4" r="27.5" fill="#fff" stroke="#0a0a0a" stroke-width="1.9"/>
<text x="1196" y="523.5" class="num">16</text>
<circle cx="582" cy="773.3" r="27.5" fill="#fff" stroke="#0a0a0a" stroke-width="1.9"/>
<text x="582" y="781.4" class="num">11</text>
<circle cx="667.2" cy="773.8" r="27.5" fill="#fff" stroke="#0a0a0a" stroke-width="1.9"/>
<text x="667.2" y="781.9" class="num">12</text>
</svg>
</body></html>
